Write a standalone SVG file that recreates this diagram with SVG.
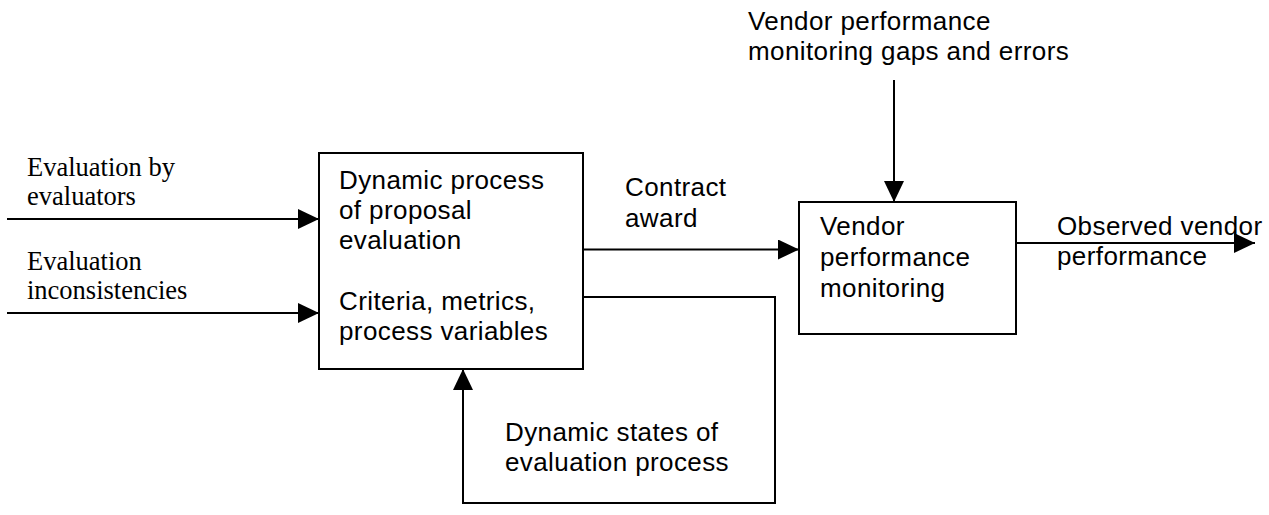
<svg xmlns="http://www.w3.org/2000/svg" width="1269" height="515" viewBox="0 0 1269 515">
<style>
.box{fill:#fff;stroke:#000;stroke-width:2}
.ln{fill:none;stroke:#000;stroke-width:2}
.ar{font-family:"Liberation Sans",Arial,sans-serif;font-size:26px;letter-spacing:0.4px;fill:#000}
.tm{font-family:"Liberation Serif","Times New Roman",serif;font-size:26.5px;fill:#000}
</style>
<defs>
<marker id="ah" markerUnits="userSpaceOnUse" markerWidth="22" markerHeight="22" refX="21" refY="10" orient="auto">
<path d="M0,0 L21,10 L0,20 z" fill="#000"/>
</marker>
</defs>
<rect width="1269" height="515" fill="#fff"/>
<g id="connectors">
<line class="ln" x1="7" y1="219" x2="319" y2="219" marker-end="url(#ah)"/>
<line class="ln" x1="7" y1="313" x2="319" y2="313" marker-end="url(#ah)"/>
<line class="ln" x1="583" y1="249.5" x2="799" y2="249.5" marker-end="url(#ah)"/>
<polyline class="ln" points="583,297 775,297 775,503 463,503 463,369" marker-end="url(#ah)"/>
<line class="ln" x1="894" y1="80" x2="894" y2="202" marker-end="url(#ah)"/>
<line class="ln" x1="1016" y1="243" x2="1255" y2="243" marker-end="url(#ah)"/>
</g>
<g id="label-inputs">
<text class="tm" x="27" y="176">Evaluation by</text>
<text class="tm" x="27" y="205">evaluators</text>
<text class="tm" x="27" y="270">Evaluation</text>
<text class="tm" x="27" y="299">inconsistencies</text>
</g>
<g id="node-evaluation">
<rect class="box" x="319" y="153" width="264" height="216"/>
<text class="ar" x="339" y="189">Dynamic process</text>
<text class="ar" x="339" y="219">of proposal</text>
<text class="ar" x="339" y="249">evaluation</text>
<text class="ar" x="339" y="310">Criteria, metrics,</text>
<text class="ar" x="339" y="340">process variables</text>
</g>
<g id="label-contract">
<text class="ar" x="625" y="196">Contract</text>
<text class="ar" x="625" y="227">award</text>
</g>
<g id="node-monitoring">
<rect class="box" x="799" y="202" width="217" height="132"/>
<text class="ar" x="820" y="235">Vendor</text>
<text class="ar" x="820" y="266">performance</text>
<text class="ar" x="820" y="297">monitoring</text>
</g>
<g id="label-gaps">
<text class="ar" x="748" y="30">Vendor performance</text>
<text class="ar" x="748" y="60">monitoring gaps and errors</text>
</g>
<g id="label-output">
<text class="ar" x="1057" y="235">Observed vendor</text>
<text class="ar" x="1057" y="265">performance</text>
</g>
<g id="label-states">
<text class="ar" x="505" y="441">Dynamic states of</text>
<text class="ar" x="505" y="471">evaluation process</text>
</g>
</svg>
